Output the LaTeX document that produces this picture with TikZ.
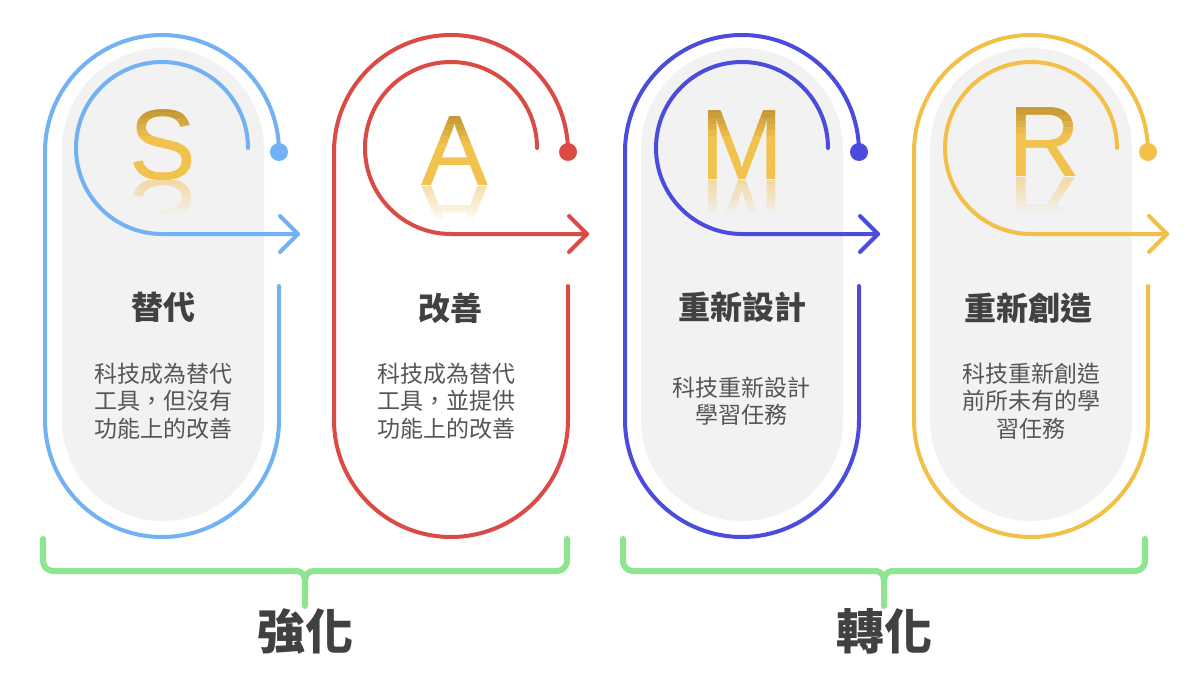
\documentclass[tikz,border=0pt]{standalone}
\usepackage{fontspec}
\newfontfamily\cjk{Noto Sans CJK TC}
\newfontfamily\latinf{Liberation Sans}
\usetikzlibrary{calc}
\definecolor{cblue}{HTML}{72B1F4}
\definecolor{cred}{HTML}{DB4B45}
\definecolor{cindigo}{HTML}{4B4BDC}
\definecolor{cyellow}{HTML}{F2BF48}
\definecolor{cgreen}{HTML}{8FE48F}
\definecolor{boxgray}{HTML}{F2F2F2}
\definecolor{titlegray}{HTML}{414141}
\definecolor{descgray}{HTML}{555555}
\definecolor{golddark}{HTML}{B58A2E}
\definecolor{goldmid}{HTML}{F2C24E}
\definecolor{goldlight}{HTML}{F5CD68}
\tikzset{
  loopline/.style={line width=4pt, line cap=round},
  chevron/.style={line width=4pt, line cap=round, line join=round},
  graybox/.style={fill=boxgray},
  enddot/.style={circle, inner sep=0pt, minimum size=18pt},
  bigletter/.style={font=\latinf\fontsize{100}{100}\selectfont, inner sep=0pt, anchor=base},
  titletext/.style={font=\cjk\bfseries\fontsize{32}{36}\selectfont, text=titlegray, inner sep=0pt},
  desctext/.style={font=\cjk\fontsize{23}{27.5}\selectfont, text=descgray, align=center, inner sep=0pt},
  bracket/.style={draw=cgreen, line width=6pt, line cap=round, line join=round},
  grouptext/.style={font=\cjk\bfseries\fontsize{48}{52}\selectfont, text=titlegray, inner sep=0pt},
}
\newcommand{\sambox}[1]{%
  \fill[graybox] (#1-101,-149) arc[start angle=180,end angle=0,radius=101] -- (#1+101,-420) arc[start angle=0,end angle=-180,radius=101] -- cycle;
}
\newcommand{\samloop}[3]{%
  \node[enddot, fill=#2] (dot#3) at (#1+117,-152) {};
  \coordinate (tip#3) at (#1+136,-234);
  \draw[loopline, draw=#2] (dot#3.center) arc[start angle=0,end angle=180,radius=117] -- (#1-117,-420) arc[start angle=180,end angle=360,radius=117] -- (#1+117,-286);
  \draw[loopline, draw=#2] (#1+86,-148) arc[start angle=0,end angle=270,radius=86] -- (tip#3);
  \draw[chevron, draw=#2] ($(tip#3)+(-18,18)$) -- (tip#3) -- ($(tip#3)+(-18,-18)$);
}
\newcommand{\samletter}[4]{%
  % base letter
  \node[bigletter, text=goldmid] (L#4) at (#1,-#2) {#3};
  % gradient body: overlapping strips from top (dark) to bottom (light)
  \foreach \i in {0,...,12} {
    \pgfmathsetmacro\pd{max(0,100-\i*17)}
    \pgfmathsetmacro\pl{min(100,max(0,(\i-6)*16))}
    \begin{scope}
      \clip ({#1-60},{-#2+79-\i*6}) rectangle ({#1+60},{-#2+71-\i*6-(\i==12)*8});
      \node[bigletter, text=goldlight!\pl!golddark!\pd!goldmid] (L#4-\i) at (#1,-#2) {#3};
    \end{scope}
  }
  % reflection: nested clips with small opacity, accumulating towards the baseline
  \foreach \j in {1,...,10} {
    \begin{scope}
      \clip ({#1-60},{-#2-1}) rectangle ({#1+60},{-#2-1-\j*3.3});
      \node[bigletter, text=goldmid, text opacity=0.055, yscale=-1] (R#4-\j) at (#1,-#2) {#3};
    \end{scope}
  }
}
\begin{document}
\begin{tikzpicture}[x=1pt,y=1pt]
\fill[white] (0,0) rectangle (1200,-685);
\useasboundingbox (0,0) rectangle (1200,-685);
% gray boxes
\sambox{163}
\sambox{742}
\sambox{1031}
% loops
\samloop{162}{cblue}{1}
\samloop{451}{cred}{2}
\samloop{742}{cindigo}{3}
\samloop{1031}{cyellow}{4}
% letters
\samletter{163}{179}{S}{1}
\samletter{455}{185}{A}{2}
\samletter{742}{179}{M}{3}
\samletter{1045}{176}{R}{4}
% titles
\node[titletext] (t1) at (163,-307) {替代};
\node[titletext] (t2) at (450,-308) {改善};
\node[titletext] (t3) at (742,-307) {重新設計};
\node[titletext] (t4) at (1028,-308) {重新創造};
% descriptions
\node[desctext] (d1) at (163,-401) {科技成為替代\\工具，但沒有\\功能上的改善};
\node[desctext] (d2) at (446,-401) {科技成為替代\\工具，並提供\\功能上的改善};
\node[desctext] (d3) at (741,-401) {科技重新設計\\學習任務};
\node[desctext] (d4) at (1031,-401) {科技重新創造\\前所未有的學\\習任務};
% brackets
\coordinate (b1l) at (43,-539);
\coordinate (b1r) at (567,-539);
\coordinate (b1m) at (305,-606);
\draw[bracket] (b1l) -- (43,-561) arc[start angle=180,end angle=270,radius=10] -- (295,-571) .. controls (303,-571) and (305,-575) .. (305,-583) -- (b1m);
\draw[bracket] (b1r) -- (567,-561) arc[start angle=0,end angle=-90,radius=10] -- (315,-571) .. controls (307,-571) and (305,-575) .. (305,-583);
\coordinate (b2l) at (623,-539);
\coordinate (b2r) at (1145,-539);
\coordinate (b2m) at (884,-606);
\draw[bracket] (b2l) -- (623,-561) arc[start angle=180,end angle=270,radius=10] -- (874,-571) .. controls (882,-571) and (884,-575) .. (884,-583) -- (b2m);
\draw[bracket] (b2r) -- (1145,-561) arc[start angle=0,end angle=-90,radius=10] -- (894,-571) .. controls (886,-571) and (884,-575) .. (884,-583);
\node[grouptext] (g1) at (305,-631) {強化};
\node[grouptext] (g2) at (884,-631) {轉化};
\end{tikzpicture}
\end{document}
